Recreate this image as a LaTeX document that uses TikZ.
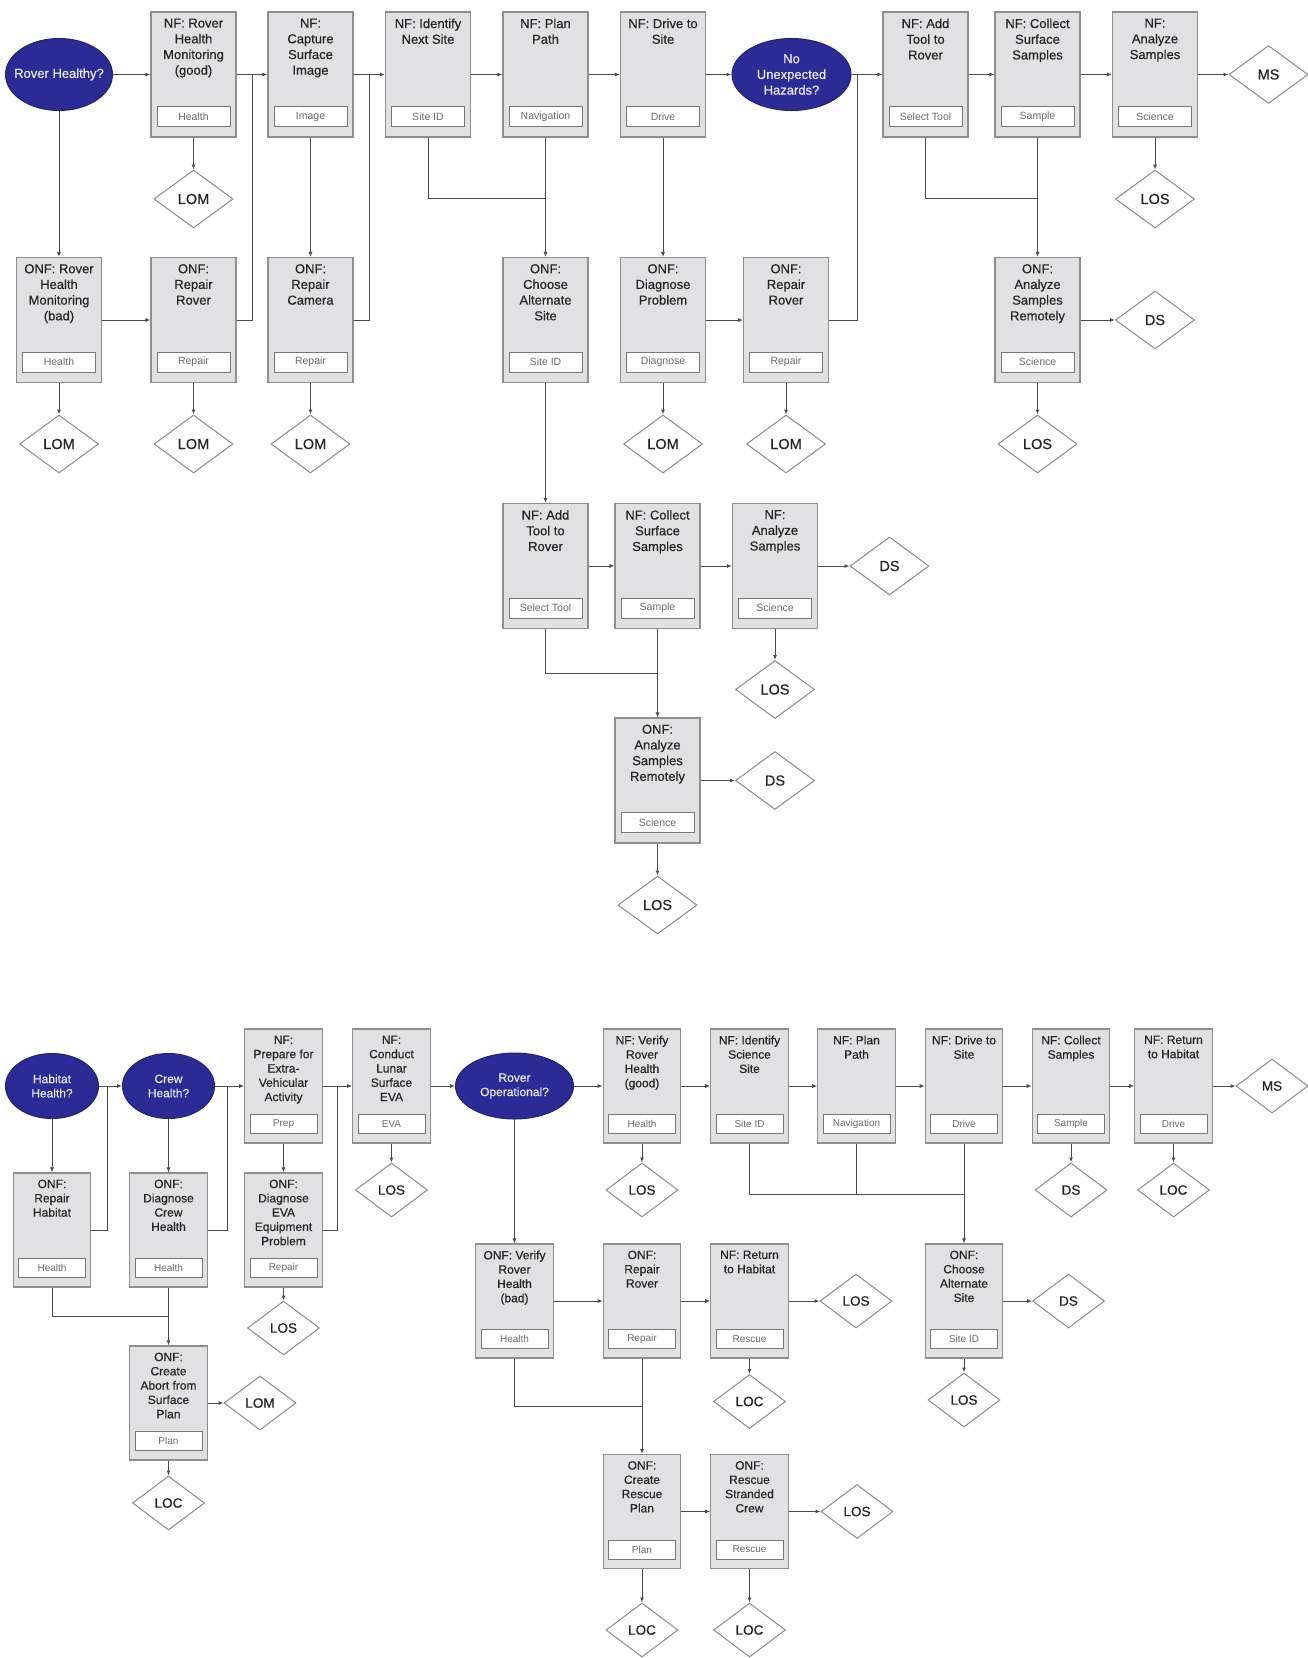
\documentclass[tikz,border=0pt]{standalone}
\usepackage{fontspec}
\setmainfont{Liberation Sans}
\newfontfamily\semib[FakeBold=0.5]{Liberation Sans}
\usetikzlibrary{shapes.geometric,arrows.meta,calc}
\definecolor{boxfill}{HTML}{E1E1E3}
\definecolor{boxline}{HTML}{8E8E8E}
\definecolor{lblline}{HTML}{787878}
\definecolor{lbltext}{HTML}{6A6A6A}
\definecolor{ellfill}{HTML}{2B2B96}
\definecolor{ellline}{HTML}{20207A}
\definecolor{conncol}{HTML}{4A4A4A}
\definecolor{dialine}{HTML}{8A8A8A}
\newcommand\tskA[5]{%
  \node[box] (#1) at (#2,#3) {};
  \node[ttl, anchor=north] (#1-t) at ([yshift=-7pt]#1.north) {#4};
  \node[lbl] (#1-l) at ([yshift=21pt]#1.south) {#5};
}
\newcommand\tskB[5]{%
  \node[boxs] (#1) at (#2,#3) {};
  \node[ttls, anchor=north] (#1-t) at ([yshift=-7pt]#1.north) {#4};
  \node[lbls] (#1-l) at ([yshift=19.5pt]#1.south) {#5};
}
\begin{document}
\begin{tikzpicture}[x=1pt,y=-1pt,
  box/.style={draw=boxline, fill=boxfill, line width=1.1pt, minimum width=85pt, minimum height=125pt, inner sep=0pt},
  boxs/.style={box, minimum width=77.5pt, minimum height=114pt},
  lbl/.style={draw=lblline, fill=white, line width=0.9pt, minimum width=73pt, minimum height=20pt, inner sep=0pt, font=\fontsize{10.5}{12}\selectfont, text=lbltext},
  lbls/.style={lbl, minimum width=67pt, minimum height=19pt, font=\fontsize{10}{12}\selectfont},
  ttl/.style={inner sep=0pt, align=center, font=\semib\fontsize{13}{15.7}\selectfont, text=black!85},
  ttls/.style={ttl, font=\semib\fontsize{12}{14.3}\selectfont},
  dia/.style={diamond, draw=dialine, fill=white, line width=1pt, minimum width=79pt, minimum height=58pt, inner sep=0pt, font=\semib\fontsize{14.5}{16}\selectfont, text=black!85},
  dias/.style={dia, minimum width=72pt, minimum height=54pt, font=\semib\fontsize{13.5}{15}\selectfont},
  ell/.style={ellipse, draw=ellline, fill=ellfill, line width=1pt, inner sep=0pt},
  etxt/.style={inner sep=0pt, align=center, text=white!92!blue, font=\semib\fontsize{13}{15.7}\selectfont},
  etxts/.style={etxt, font=\semib\fontsize{12}{14.3}\selectfont},
  conn/.style={draw=conncol, line width=1pt},
  arr/.style={conn, -{Latex[length=5pt,width=4pt]}}
]
\fill[white] (0,0) rectangle (1308,1658);
\useasboundingbox (0,0) rectangle (1308,1658);

% ===== Top section =====
\node[ell, minimum width=107pt, minimum height=72pt] (rh) at (59,74.5) {};
\node[etxt] (rh-t) at (rh) {Rover Healthy?};
\tskA{nf1}{193.5}{74.5}{NF: Rover\\Health\\Monitoring\\(good)}{Health}
\tskA{nf2}{310.5}{74.5}{NF:\\Capture\\Surface\\Image}{Image}
\tskA{nf3}{428}{74.5}{NF: Identify\\Next Site}{Site ID}
\tskA{nf4}{545.5}{74.5}{NF: Plan\\Path}{Navigation}
\tskA{nf5}{663}{74.5}{NF: Drive to\\Site}{Drive}
\node[ell, minimum width=119pt, minimum height=72pt] (hz) at (791.5,74.5) {};
\node[etxt] (hz-t) at (hz) {No\\Unexpected\\Hazards?};
\tskA{nf6}{925.5}{74.5}{NF: Add\\Tool to\\Rover}{Select Tool}
\tskA{nf7}{1037.5}{74.5}{NF: Collect\\Surface\\Samples}{Sample}
\tskA{nf8}{1155}{74.5}{NF:\\Analyze\\Samples}{Science}
\node[dia] (ms1) at (1268.5,74.5) {MS};
\node[dia] (lom1) at (193.5,199) {LOM};
\node[dia] (los1) at (1155,199) {LOS};

\tskA{onf1}{59}{320}{ONF: Rover\\Health\\Monitoring\\(bad)}{Health}
\tskA{onf2}{193.5}{320}{ONF:\\Repair\\Rover}{Repair}
\tskA{onf3}{310.5}{320}{ONF:\\Repair\\Camera}{Repair}
\tskA{onf4}{545.5}{320}{ONF:\\Choose\\Alternate\\Site}{Site ID}
\tskA{onf5}{663}{320}{ONF:\\Diagnose\\Problem}{Diagnose}
\tskA{onf6}{786}{320}{ONF:\\Repair\\Rover}{Repair}
\tskA{onf7}{1037.5}{320}{ONF:\\Analyze\\Samples\\Remotely}{Science}
\node[dia] (ds1) at (1155,320) {DS};
\node[dia] (lom2) at (59,444) {LOM};
\node[dia] (lom3) at (193.5,444) {LOM};
\node[dia] (lom4) at (310.5,444) {LOM};
\node[dia] (lom5) at (663,444) {LOM};
\node[dia] (lom6) at (786,444) {LOM};
\node[dia] (los2) at (1037.5,444) {LOS};

% middle
\tskA{m1}{545.5}{566}{NF: Add\\Tool to\\Rover}{Select Tool}
\tskA{m2}{657.5}{566}{NF: Collect\\Surface\\Samples}{Sample}
\tskA{m3}{775}{566}{NF:\\Analyze\\Samples}{Science}
\node[dia] (ds2) at (889.5,566) {DS};
\node[dia] (los3) at (775,689.5) {LOS};
\tskA{m4}{657.5}{780.5}{ONF:\\Analyze\\Samples\\Remotely}{Science}
\node[dia] (ds3) at (775,780.5) {DS};
\node[dia] (los4) at (657.5,905) {LOS};

% top connectors
\draw[arr] (rh) -- (nf1);
\draw[arr] (nf1) -- (nf2);
\draw[arr] (nf2) -- (nf3);
\draw[arr] (nf3) -- (nf4);
\draw[arr] (nf4) -- (nf5);
\draw[arr] (nf5) -- (hz);
\draw[arr] (hz) -- (nf6);
\draw[arr] (nf6) -- (nf7);
\draw[arr] (nf7) -- (nf8);
\draw[arr] (nf8) -- (ms1);
\draw[arr] (nf1) -- (lom1);
\draw[arr] (nf8) -- (los1);
\draw[arr] (rh) -- (onf1);
\draw[arr] (onf1) -- (onf2);
\draw[conn] (onf2.east) -- ++(16,0) coordinate (j1) -- (j1 |- nf2.west);
\draw[arr] (nf2) -- (onf3);
\draw[conn] (onf3.east) -- ++(16,0) coordinate (j2) -- (j2 |- nf3.west);
\draw[arr] (onf1) -- (lom2);
\draw[arr] (onf2) -- (lom3);
\draw[arr] (onf3) -- (lom4);
\draw[conn] (nf3.south) |- ([yshift=-61pt]nf4.south);
\draw[arr] (nf4) -- (onf4);
\draw[arr] (nf5) -- (onf5);
\draw[arr] (onf5) -- (onf6);
\draw[conn] (onf6.east) -- ++(28,0) coordinate (j3) -- (j3 |- hz.east);
\draw[arr] (onf5) -- (lom5);
\draw[arr] (onf6) -- (lom6);
\draw[conn] (nf6.south) |- ([yshift=-61pt]nf7.south);
\draw[arr] (nf7) -- (onf7);
\draw[arr] (onf7) -- (ds1);
\draw[arr] (onf7) -- (los2);
\draw[arr] (onf4) -- (m1);
\draw[arr] (m1) -- (m2);
\draw[arr] (m2) -- (m3);
\draw[arr] (m3) -- (ds2);
\draw[arr] (m3) -- (los3);
\draw[conn] (m1.south) |- ([yshift=-44.7pt]m2.south);
\draw[arr] (m2) -- (m4);
\draw[arr] (m4) -- (ds3);
\draw[arr] (m4) -- (los4);

% ===== Bottom section =====
\node[ell, minimum width=93pt, minimum height=65pt] (hh) at (52,1086) {};
\node[etxts] (hh-t) at (hh) {Habitat\\Health?};
\node[ell, minimum width=92pt, minimum height=65pt] (ch) at (168.5,1086) {};
\node[etxts] (ch-t) at (ch) {Crew\\Health?};
\tskB{b1}{283.5}{1086}{NF:\\Prepare for\\Extra-\\Vehicular\\Activity}{Prep}
\tskB{b2}{391.5}{1086}{NF:\\Conduct\\Lunar\\Surface\\EVA}{EVA}
\node[ell, minimum width=118pt, minimum height=66pt] (ro) at (514.5,1086) {};
\node[etxts] (ro-t) at (ro) {Rover\\Operational?};
\tskB{b3}{642}{1086}{NF: Verify\\Rover\\Health\\(good)}{Health}
\tskB{b4}{749.5}{1086}{NF: Identify\\Science\\Site}{Site ID}
\tskB{b5}{856.5}{1086}{NF: Plan\\Path}{Navigation}
\tskB{b6}{964}{1086}{NF: Drive to\\Site}{Drive}
\tskB{b7}{1071}{1086}{NF: Collect\\Samples}{Sample}
\tskB{b8}{1173.5}{1086}{NF: Return\\to Habitat}{Drive}
\node[dias] (ms2) at (1272,1086) {MS};

\tskB{o1}{52}{1230}{ONF:\\Repair\\Habitat}{Health}
\tskB{o2}{168.5}{1230}{ONF:\\Diagnose\\Crew\\Health}{Health}
\tskB{o3}{283.5}{1230}{ONF:\\Diagnose\\EVA\\Equipment\\Problem}{Repair}
\node[dias] (los6) at (391.5,1190) {LOS};
\node[dias] (los5) at (283.5,1328) {LOS};
\tskB{o4}{168.5}{1403}{ONF:\\Create\\Abort from\\Surface\\Plan}{Plan}
\node[dias] (lom7) at (260,1403) {LOM};
\node[dias] (loc1) at (168.5,1503) {LOC};

\node[dias] (los9) at (642,1190) {LOS};
\node[dias] (ds5) at (1071,1190) {DS};
\node[dias] (loc5) at (1173.5,1190) {LOC};
\tskB{o5}{514.5}{1301}{ONF: Verify\\Rover\\Health\\(bad)}{Health}
\tskB{o6}{642}{1301}{ONF:\\Repair\\Rover}{Repair}
\tskB{o7}{749.5}{1301}{NF: Return\\to Habitat}{Rescue}
\node[dias] (los7) at (856,1301) {LOS};
\node[dias] (loc2) at (749.5,1401.5) {LOC};
\tskB{o10}{964}{1301}{ONF:\\Choose\\Alternate\\Site}{Site ID}
\node[dias] (ds4) at (1068.5,1301) {DS};
\node[dias] (los10) at (964,1400) {LOS};
\tskB{o8}{642}{1511.5}{ONF:\\Create\\Rescue\\Plan}{Plan}
\tskB{o9}{749.5}{1511.5}{ONF:\\Rescue\\Stranded\\Crew}{Rescue}
\node[dias] (los8) at (857,1511.5) {LOS};
\node[dias] (loc3) at (642,1630) {LOC};
\node[dias] (loc4) at (749.5,1630) {LOC};

% bottom connectors
\draw[arr] (hh) -- (ch);
\draw[arr] (ch) -- (b1);
\draw[arr] (b1) -- (b2);
\draw[arr] (b2) -- (ro);
\draw[arr] (ro) -- (b3);
\draw[arr] (b3) -- (b4);
\draw[arr] (b4) -- (b5);
\draw[arr] (b5) -- (b6);
\draw[arr] (b6) -- (b7);
\draw[arr] (b7) -- (b8);
\draw[arr] (b8) -- (ms2);
\draw[arr] (hh) -- (o1);
\draw[conn] (o1.east) -- ++(16,0) coordinate (j4) -- (j4 |- hh.east);
\draw[arr] (ch) -- (o2);
\draw[conn] (o2.east) -- ++(20,0) coordinate (j5) -- (j5 |- ch.east);
\draw[arr] (b1) -- (o3);
\draw[conn] (o3.east) -- ++(15,0) coordinate (j6) -- (j6 |- b1.east);
\draw[arr] (o3) -- (los5);
\draw[arr] (b2) -- (los6);
\draw[conn] (o1.south) |- ([yshift=-29pt]o2.south);
\draw[arr] (o2) -- (o4);
\draw[arr] (o4) -- (lom7);
\draw[arr] (o4) -- (loc1);
\draw[arr] (ro) -- (o5);
\draw[arr] (o5) -- (o6);
\draw[arr] (o6) -- (o7);
\draw[arr] (o7) -- (los7);
\draw[arr] (o7) -- (loc2);
\draw[conn] (o5.south) |- ([yshift=-48pt]o6.south);
\draw[arr] (o6) -- (o8);
\draw[arr] (o8) -- (o9);
\draw[arr] (o9) -- (los8);
\draw[arr] (o8) -- (loc3);
\draw[arr] (o9) -- (loc4);
\draw[arr] (b3) -- (los9);
\draw[conn] (b4.south) |- ([yshift=-50.7pt]b6.south);
\draw[conn] (b5.south) -- ([yshift=-50.7pt]b5.south);
\draw[arr] (b6) -- (o10);
\draw[arr] (o10) -- (ds4);
\draw[arr] (o10) -- (los10);
\draw[arr] (b7) -- (ds5);
\draw[arr] (b8) -- (loc5);
\end{tikzpicture}
\end{document}
